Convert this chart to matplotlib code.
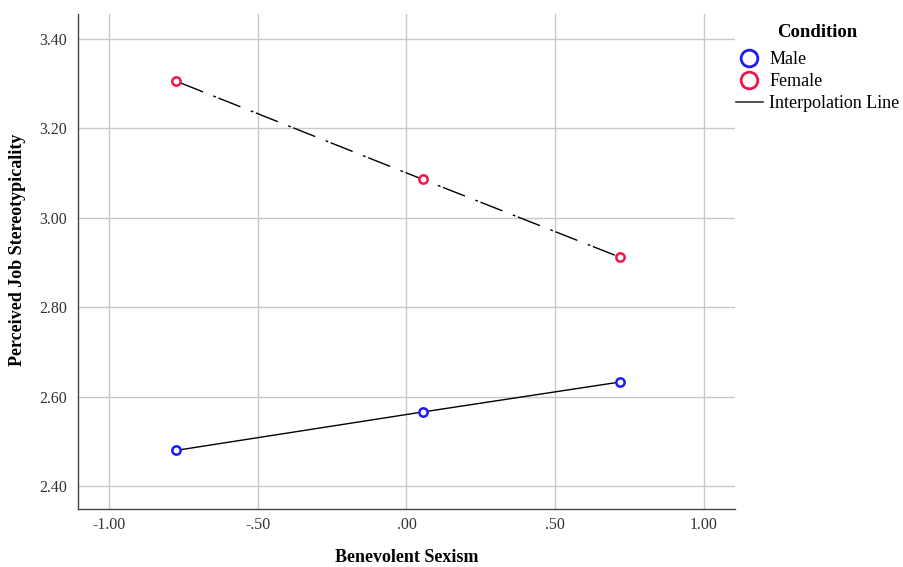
import matplotlib
matplotlib.use("Agg")
import matplotlib.pyplot as plt
from matplotlib.lines import Line2D

# values
bs_levels = [-0.775, 0.055, 0.718]
male_vals = [2.480, 2.566, 2.633]
female_vals = [3.306, 3.086, 2.912]

x_ticks = [-1.0, -0.5, 0.0, 0.5, 1.0]
x_tick_labels = ["-1.00", "-.50", ".00", ".50", "1.00"]
y_ticks = [2.40, 2.60, 2.80, 3.00, 3.20, 3.40]
y_tick_labels = ["2.40", "2.60", "2.80", "3.00", "3.20", "3.40"]

plt.rcParams['font.family'] = ['Liberation Serif', 'DejaVu Serif']

male_col = '#1a1aff'
female_col = '#f0154a'

fig = plt.figure(figsize=(9.04, 5.67), dpi=100)
ax = fig.add_axes([0.0863, 0.1023, 0.7267, 0.873])

ax.plot(bs_levels, male_vals, color='black', lw=1, zorder=2)
ax.plot(bs_levels, female_vals, color='black', lw=1,
        linestyle=(0, (2, 2, 17, 8)), zorder=2)
ax.plot(bs_levels, male_vals, 'o', ms=6, mfc='white', mec=male_col, mew=1.8, zorder=3)
ax.plot(bs_levels, female_vals, 'o', ms=6, mfc='white', mec=female_col, mew=1.8, zorder=3)

ax.set_xlim(-1.104, 1.104)
ax.set_ylim(2.349, 3.456)
ax.set_xticks(x_ticks)
ax.set_xticklabels(x_tick_labels)
ax.set_yticks(y_ticks)
ax.set_yticklabels(y_tick_labels)
ax.tick_params(length=0, labelsize=11.5, colors='#333333')
ax.tick_params(axis='x', pad=6)
ax.tick_params(axis='y', pad=8)
ax.grid(True, color='#c8c8c8', lw=1)
ax.set_axisbelow(True)

for s in ['top', 'right']:
    ax.spines[s].set_visible(False)
for s in ['left', 'bottom']:
    ax.spines[s].set_color('#444444')
    ax.spines[s].set_linewidth(1)

fig.text(407 / 904, 1 - 557 / 567, 'Benevolent Sexism', fontsize=13,
         fontweight='bold', ha='center', va='center')
fig.text(18 / 904, 1 - 250 / 567, 'Perceived Job Stereotypicality', fontsize=13,
         fontweight='bold', ha='center', va='center', rotation=90)

handles = [
    Line2D([], [], ls='none', marker='o', ms=12, mfc='white', mec=male_col, mew=2),
    Line2D([], [], ls='none', marker='o', ms=12, mfc='white', mec=female_col, mew=2),
    Line2D([], [], color='#333333', lw=1.2),
]
leg = fig.legend(handles, ['Male', 'Female', 'Interpolation Line'],
                 title='Condition', loc='upper left', bbox_to_anchor=(0.814, 0.957),
                 frameon=False, fontsize=13, title_fontsize=13.5,
                 handlelength=1.5, handletextpad=0.35, labelspacing=0.28,
                 borderaxespad=0, borderpad=0)
leg.get_title().set_fontweight('bold')
leg._legend_box.sep = 7

fig.savefig('out.png', dpi=100)
